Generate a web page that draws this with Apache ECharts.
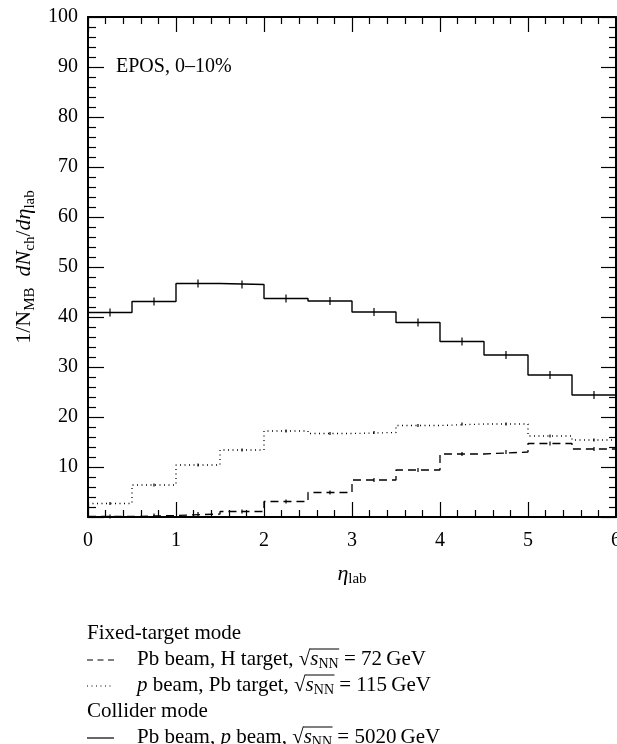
<!DOCTYPE html>
<html>
<head>
<meta charset="utf-8">
<script src="https://cdn.jsdelivr.net/npm/echarts@6/dist/echarts.min.js"></script>
<style>
html,body{margin:0;padding:0;background:#fff;}
#c{width:617px;height:744px;}
</style>
</head>
<body>
<div id="c"></div>
<script>
// ---- data ----
var binEdges = [0, 0.5, 1, 1.5, 2, 2.5, 3, 3.5, 4, 4.5, 5, 5.5, 6];
var colliderPbp = [40.9, 43.1, 46.7, 46.5, 43.7, 43.2, 41.0, 38.9, 35.1, 32.4, 28.4, 24.4];
var colliderErr = [0.8, 0.8, 0.8, 0.8, 0.8, 0.8, 0.8, 0.8, 0.8, 0.8, 0.8, 0.8];
var fixedPbH = [0.1, 0.3, 0.6, 1.1, 3.1, 4.9, 7.4, 9.4, 12.6, 13.0, 14.7, 13.6];
var fixedPbHErr = [0.4, 0.4, 0.4, 0.4, 0.4, 0.4, 0.4, 0.4, 0.4, 0.4, 0.4, 0.4];
var fixedpPb = [2.7, 6.4, 10.4, 13.4, 17.2, 16.7, 16.9, 18.3, 18.6, 18.6, 16.2, 15.4];
var fixedpPbErr = [0.3, 0.3, 0.3, 0.3, 0.3, 0.3, 0.3, 0.3, 0.3, 0.3, 0.3, 0.3];
var xTicks = [0, 1, 2, 3, 4, 5, 6];
var yTicks = [10, 20, 30, 40, 50, 60, 70, 80, 90, 100];

var FONT = '"Liberation Serif", "Times New Roman", serif';
var FS = 20;   // tick labels, annotation
var LFS = 21;  // legend
var LSUB = 14;

function stepData(vals) {
  var d = [];
  for (var i = 0; i < vals.length; i++) d.push([binEdges[i], vals[i]]);
  d.push([binEdges[binEdges.length - 1], vals[vals.length - 1]]);
  return d;
}
function errData(vals, errs) {
  var d = [];
  for (var i = 0; i < vals.length; i++) d.push([(binEdges[i] + binEdges[i + 1]) / 2, vals[i], errs[i]]);
  return d;
}
function errSeries(vals, errs) {
  return {
    type: 'custom',
    data: errData(vals, errs),
    silent: true,
    z: 3,
    renderItem: function (params, api) {
      var x = api.value(0), y = api.value(1), e = api.value(2);
      var p1 = api.coord([x, y - e]), p2 = api.coord([x, y + e]);
      return { type: 'line', shape: { x1: p1[0], y1: p1[1], x2: p2[0], y2: p2[1] },
               style: { stroke: '#000', lineWidth: 1.2 } };
    }
  };
}

var chart = echarts.init(document.getElementById('c'), null, { renderer: 'canvas' });

var mctx = document.createElement('canvas').getContext('2d');
function mw(text, style) {
  var f = (style === 'i' ? 'italic ' : '') + (style === 'sub' ? LSUB : LFS) + 'px ' + FONT;
  mctx.font = f;
  return mctx.measureText(text).width;
}

var richL = {
  n: { fontFamily: FONT, fontSize: LFS, lineHeight: 25, color: '#000' },
  i: { fontFamily: FONT, fontSize: LFS, fontStyle: 'italic', lineHeight: 25, color: '#000' },
  sub: { fontFamily: FONT, fontSize: LSUB, lineHeight: 14, verticalAlign: 'bottom', color: '#000' }
};
var richName = {
  n: { fontFamily: FONT, fontSize: 22, lineHeight: 26, color: '#000' },
  i: { fontFamily: FONT, fontSize: 22, fontStyle: 'italic', lineHeight: 26, color: '#000' },
  sub: { fontFamily: FONT, fontSize: 15, lineHeight: 15, verticalAlign: 'bottom', color: '#000' }
};

var legendRows = [
  { header: true, segs: [['n', 'Fixed-target mode']] },
  { dash: [6, 4.5], segs: [['n', 'Pb beam, H target, '], ['n', '\u221A'], ['i', 's'], ['sub', 'NN'], ['n', ' = 72\u2009GeV']] },
  { dash: [1, 3.5], segs: [['i', 'p'], ['n', ' beam, Pb target, '], ['n', '\u221A'], ['i', 's'], ['sub', 'NN'], ['n', ' = 115\u2009GeV']] },
  { header: true, segs: [['n', 'Collider mode']] },
  { dash: null, segs: [['n', 'Pb beam, '], ['i', 'p'], ['n', ' beam, '], ['n', '\u221A'], ['i', 's'], ['sub', 'NN'], ['n', ' = 5020\u2009GeV']] }
];

var graphics = [];
graphics.push({ type: 'text', x: 116, y: 67, style: { text: 'EPOS, 0\u201310%', font: FS + 'px ' + FONT, fill: '#000', align: 'left', verticalAlign: 'middle' } });

var legX = 87, legTextX = 137, rowY0 = 633, rowDy = 26;
legendRows.forEach(function (row, k) {
  var y = rowY0 + k * rowDy;
  var x0 = row.header ? legX : legTextX;
  var txt = row.segs.map(function (s) { return '{' + s[0] + '|' + s[1] + '}'; }).join('');
  graphics.push({ type: 'text', x: x0, y: y, style: { text: txt, rich: richL, align: 'left', verticalAlign: 'middle', fill: '#000' } });
  if (!row.header) {
    graphics.push({ type: 'line', shape: { x1: legX, y1: y + 1, x2: legX + 27, y2: y + 1 },
      style: { stroke: '#000', lineWidth: 1.2, lineDash: row.dash || null } });
    var acc = 0, ox1 = null, ox2 = null;
    for (var j = 0; j < row.segs.length; j++) {
      var s = row.segs[j];
      var w = mw(s[1], s[0]);
      if (s[1] === '\u221A') { ox1 = x0 + acc + w - 0.5; }
      acc += w;
      if (s[0] === 'sub') { ox2 = x0 + acc + 0.5; }
    }
    if (ox1 !== null && ox2 !== null) {
      graphics.push({ type: 'line', shape: { x1: ox1, y1: y - 10, x2: ox2, y2: y - 10 }, style: { stroke: '#000', lineWidth: 1 } });
    }
  }
});

var axisLabelStyle = { fontFamily: FONT, fontSize: FS, color: '#000' };

var option = {
  animation: false,
  backgroundColor: '#fff',
  grid: { left: 88, top: 17, right: 1, bottom: 227, containLabel: false, outerBoundsMode: 'none' },
  xAxis: [
    {
      type: 'value', min: 0, max: 6, interval: 1, position: 'bottom',
      axisLine: { show: true, onZero: false, lineStyle: { color: '#000', width: 2 } },
      axisTick: { show: true, inside: true, length: 15, lineStyle: { color: '#000', width: 1.2 } },
      minorTick: { show: true, splitNumber: 5, length: 7, lineStyle: { color: '#000', width: 1.2 } },
      splitLine: { show: false },
      axisLabel: Object.assign({ margin: 14, showMaxLabel: true, showMinLabel: true, hideOverlap: false,
        formatter: function (v) { return xTicks.indexOf(v) >= 0 ? String(v) : ''; } }, axisLabelStyle),
      name: '{i|\u03B7}{sub|lab}', nameLocation: 'middle', nameGap: 44,
      nameTextStyle: { rich: richName }
    },
    {
      type: 'value', min: 0, max: 6, interval: 1, position: 'top',
      axisLine: { show: true, onZero: false, lineStyle: { color: '#000', width: 2 } },
      axisTick: { show: true, inside: true, length: 15, lineStyle: { color: '#000', width: 1.2 } },
      minorTick: { show: true, splitNumber: 5, length: 7, lineStyle: { color: '#000', width: 1.2 } },
      splitLine: { show: false }, axisLabel: { show: false }
    }
  ],
  yAxis: [
    {
      type: 'value', min: 0, max: 100, interval: 10, position: 'left',
      axisLine: { show: true, onZero: false, lineStyle: { color: '#000', width: 2 } },
      axisTick: { show: true, inside: true, length: 16, lineStyle: { color: '#000', width: 1.2 } },
      minorTick: { show: true, splitNumber: 5, length: 8, lineStyle: { color: '#000', width: 1.2 } },
      splitLine: { show: false },
      axisLabel: Object.assign({ margin: 10,
        formatter: function (v) { return yTicks.indexOf(v) >= 0 ? String(v) : ''; } }, axisLabelStyle),
      name: '{n|1/N}{sub|MB}{n|  }{i|dN}{sub|ch}{n|/}{i|d\u03B7}{sub|lab}',
      nameLocation: 'middle', nameGap: 48, nameRotate: 90,
      nameTextStyle: { rich: richName }
    },
    {
      type: 'value', min: 0, max: 100, interval: 10, position: 'right',
      axisLine: { show: true, onZero: false, lineStyle: { color: '#000', width: 2 } },
      axisTick: { show: true, inside: true, length: 15, lineStyle: { color: '#000', width: 1.2 } },
      minorTick: { show: true, splitNumber: 5, length: 7, lineStyle: { color: '#000', width: 1.2 } },
      splitLine: { show: false }, axisLabel: { show: false }
    }
  ],
  series: [
    { type: 'line', step: 'end', data: stepData(colliderPbp), showSymbol: false, symbol: 'none',
      lineStyle: { color: '#000', width: 1.4 }, z: 2 },
    { type: 'line', step: 'end', data: stepData(fixedPbH), showSymbol: false, symbol: 'none',
      lineStyle: { color: '#000', width: 1.3, type: [8, 5] }, z: 2 },
    { type: 'line', step: 'end', data: stepData(fixedpPb), showSymbol: false, symbol: 'none',
      lineStyle: { color: '#000', width: 1.3, type: [1, 3.5] }, z: 2 },
    errSeries(colliderPbp, colliderErr),
    errSeries(fixedPbH, fixedPbHErr),
    errSeries(fixedpPb, fixedpPbErr)
  ],
  graphic: graphics
};
chart.setOption(option);
</script>
</body>
</html>
